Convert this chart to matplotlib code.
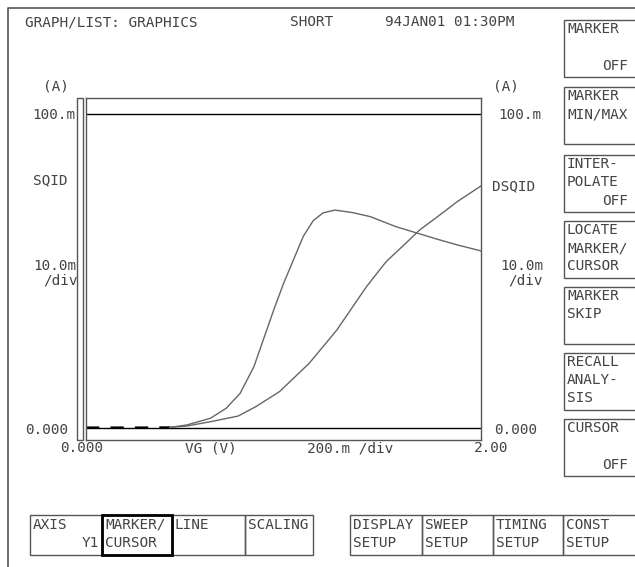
import matplotlib
matplotlib.use("Agg")
import matplotlib.pyplot as plt
from matplotlib.patches import Rectangle

# ---- data (VG in V, currents in mA) ----
vg_low = [0.0, 0.1, 0.2, 0.3, 0.425]
i_low = [0.15, 0.15, 0.15, 0.15, 0.2]

sqid_vg = [0.425, 0.51, 0.63, 0.71, 0.78, 0.85, 0.90, 0.95, 1.00, 1.05, 1.10,
           1.15, 1.20, 1.26, 1.35, 1.44, 1.57, 1.67, 1.78, 1.88, 2.0]
sqid_i = [0.2, 0.96, 3.1, 6.3, 11.0, 19.5, 28.5, 37.5, 46.0, 53.5, 61.0,
          66.0, 68.5, 69.4, 68.6, 67.3, 64.1, 62.2, 60.1, 58.3, 56.4]

dsqid_vg = [0.425, 0.51, 0.63, 0.77, 0.86, 0.98, 1.13, 1.27, 1.42, 1.52,
            1.61, 1.69, 1.78, 1.88, 2.0]
dsqid_i = [0.2, 0.64, 2.0, 3.8, 6.8, 11.6, 20.6, 31.2, 45.0, 53.0,
           58.3, 63.1, 67.3, 72.1, 77.1]

ref_levels = [0.0, 100.0]

header = ["GRAPH/LIST: GRAPHICS", "SHORT", "94JAN01 01:30PM"]
side_keys = [("MARKER", "", "OFF"), ("MARKER", "MIN/MAX", ""),
             ("INTER-", "POLATE", "OFF"), ("LOCATE", "MARKER/", "CURSOR"),
             ("MARKER", "SKIP", ""), ("RECALL", "ANALY-", "SIS"),
             ("CURSOR", "", "OFF")]
bottom_keys = [("AXIS", "Y1"), ("MARKER/", "CURSOR"), ("LINE", ""),
               ("SCALING", ""), ("DISPLAY", "SETUP"), ("SWEEP", "SETUP"),
               ("TIMING", "SETUP"), ("CONST", "SETUP")]

W, H = 635, 567
fig = plt.figure(figsize=(W / 100, H / 100), dpi=100)
fig.patch.set_facecolor("white")

FONT = "DejaVu Sans Mono"
FS = 10.4
TC = "#444444"
LC = "#555555"

bg = fig.add_axes([0, 0, 1, 1])
bg.set_xlim(0, W)
bg.set_ylim(H, 0)
bg.axis("off")


def txt(x, y, s, ha="left"):
    bg.text(x, y, s, ha=ha, va="center", fontsize=FS, family=FONT, color=TC)


# outer frame
bg.plot([8, 8, W + 5], [H + 5, 8, 8], color=LC, lw=1.2)

# header
txt(25, 22, header[0])
txt(290, 22, header[1])
txt(385, 22, header[2])

# narrow bar left of plot
bg.add_patch(Rectangle((77, 98), 6, 342, fill=False, ec=LC, lw=1.0))

# left labels
txt(43, 86, "(A)")
txt(32, 115, "100.m")
txt(33, 180, "SQID")
txt(33, 266, "10.0m")
txt(43, 281, "/div")
txt(25, 430, "0.000")
# right labels
txt(493, 86, "(A)")
txt(498, 115, "100.m")
txt(492, 186, "DSQID")
txt(500, 266, "10.0m")
txt(508, 281, "/div")
txt(494, 430, "0.000")
# x labels
txt(60, 448, "0.000")
txt(185, 448, "VG (V)")
txt(307, 448, "200.m /div")
txt(474, 448, "2.00")

# right soft keys
tops = [20, 87, 155, 221, 287, 353, 419]
for top, (a, b, c) in zip(tops, side_keys):
    bg.add_patch(Rectangle((564, top), 90, 57, fill=False, ec=LC, lw=1.0))
    txt(567, top + 9, a)
    if b:
        txt(567, top + 27, b)
    if c:
        if c == "OFF":
            txt(628, top + 46, c, ha="right")
        else:
            txt(567, top + 45, c)

# bottom soft keys
edges = [30, 102, 172, 245, 313, 350, 422, 493, 563, 650]
k = 0
for i in range(9):
    if i == 4:
        continue
    x0, x1 = edges[i], edges[i + 1]
    a, b = bottom_keys[k]
    bg.add_patch(Rectangle((x0, 515), x1 - x0, 40, fill=False, ec=LC, lw=1.0))
    txt(x0 + 3, 525, a)
    if b:
        if b == "Y1":
            txt(x1 - 3, 543, b, ha="right")
        else:
            txt(x0 + 3, 543, b)
    k += 1
# highlighted key
bg.add_patch(Rectangle((102, 515), 70, 40, fill=False, ec="black", lw=2.0, zorder=5))

# data axes (plot box x 86..481, y 98..440 px)
L, R, T, B = 86, 481, 98, 440
ax = fig.add_axes([L / W, (H - B) / H, (R - L) / W, (B - T) / H])
ax.set_xlim(0, 2.0)
ppm = (428 - 114) / 100.0
ax.set_ylim(-(B - 428) / ppm, (428 - T) / ppm)
ax.set_xticks([])
ax.set_yticks([])
for s in ax.spines.values():
    s.set_color(LC)
    s.set_linewidth(1.0)

for lv in ref_levels:
    ax.axhline(lv, color="black", lw=1.0)

ax.plot(vg_low, i_low, color="black", lw=1.6, dashes=(6, 5))
ax.plot(sqid_vg, sqid_i, color="#666666", lw=1.0)
ax.plot(dsqid_vg, dsqid_i, color="#666666", lw=1.0)

fig.savefig("out.png", dpi=100)
